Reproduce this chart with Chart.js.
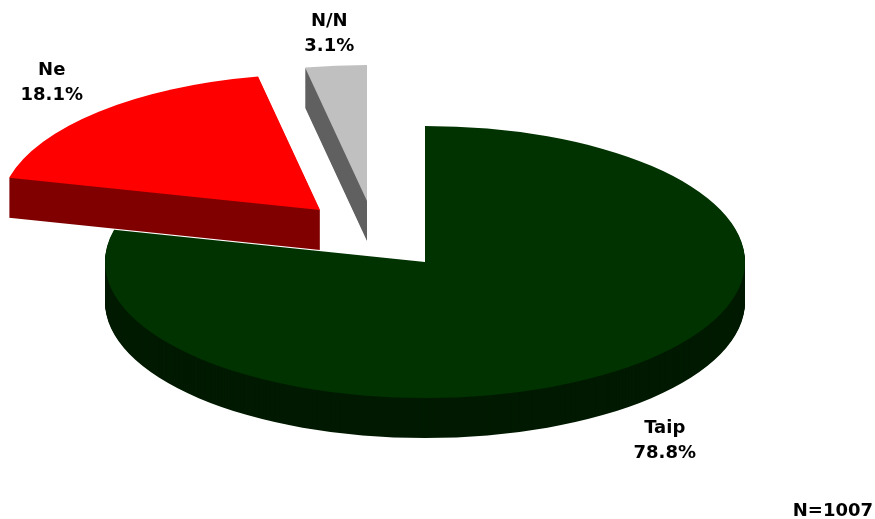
<!DOCTYPE html>
<html>
<head>
<meta charset="utf-8">
<script src="https://cdn.jsdelivr.net/npm/chart.js@4.4.1/dist/chart.umd.min.js"></script>
<style>
  html, body { margin: 0; padding: 0; background: #fff; }
  #wrap { width: 875px; height: 519px; position: relative; }
</style>
</head>
<body>
<div id="wrap"><canvas id="pieCanvas"></canvas></div>
<script>
// data
const categories = ['Taip', 'Ne', 'N/N'];
const shares = [78.8, 18.1, 3.1];
const sampleNote = 'N=1007';

// look
const topColors = ['#003300', '#ff0000', '#c0c0c0'];
const sideColors = ['#001a00', '#800000', '#606060'];
const explode = [[0, 0], [-105, -52], [-58, -61]]; // screen px shift of each slice
const labelNudge = [[0, 0], [0, 0], [0, 8]];
const drawOrder = [0, 2, 1];
const RX = 320, RY = 136, DEPTH = 40;
const GAP_X = 68, GAP_Y = 40; // label distance outside the rim
const FONT = 'bold 18px "DejaVu Sans", Verdana, sans-serif';

function slicePath(ctx, arc, dx, dy) {
  ctx.save();
  ctx.translate(arc.x + dx, arc.y + dy);
  ctx.scale(RX / arc.outerRadius, RY / arc.outerRadius);
  ctx.beginPath();
  ctx.moveTo(0, 0);
  ctx.arc(0, 0, arc.outerRadius, arc.startAngle, arc.endAngle);
  ctx.closePath();
  ctx.restore();
}

const pie3d = {
  id: 'pie3d',
  beforeDatasetsDraw(chart) {
    const ctx = chart.ctx;
    const arcs = chart.getDatasetMeta(0).data;
    drawOrder.forEach(function (i) {
      const arc = arcs[i];
      const [ex, ey] = explode[i];
      ctx.fillStyle = sideColors[i];
      for (let d = DEPTH; d >= 1; d--) {
        slicePath(ctx, arc, ex, ey + d);
        ctx.fill();
      }
      ctx.fillStyle = topColors[i];
      slicePath(ctx, arc, ex, ey);
      ctx.fill();
    });
    return false;
  },
  afterDraw(chart) {
    const ctx = chart.ctx;
    const arcs = chart.getDatasetMeta(0).data;
    ctx.save();
    ctx.font = FONT;
    ctx.fillStyle = '#000';
    ctx.textAlign = 'center';
    ctx.textBaseline = 'middle';
    arcs.forEach(function (arc, i) {
      const mid = (arc.startAngle + arc.endAngle) / 2;
      const c = Math.cos(mid), s = Math.sin(mid);
      const x = arc.x + explode[i][0] + (RX + GAP_X) * c + labelNudge[i][0];
      const y = arc.y + explode[i][1] + (RY + GAP_Y) * s + (s > 0 ? DEPTH : 0) + labelNudge[i][1];
      ctx.fillText(categories[i], x, y - 12.5);
      ctx.fillText(shares[i].toFixed(1) + '%', x, y + 12.5);
    });
    ctx.textAlign = 'right';
    ctx.textBaseline = 'alphabetic';
    ctx.fillText(sampleNote, chart.width - 2, chart.height - 3);
    ctx.restore();
  }
};

new Chart(document.getElementById('pieCanvas').getContext('2d'), {
  type: 'pie',
  data: {
    labels: categories,
    datasets: [{ data: shares, backgroundColor: topColors, borderWidth: 0 }]
  },
  options: {
    responsive: true,
    maintainAspectRatio: false,
    animation: false,
    layout: { padding: { left: 0, right: 25, top: 5, bottom: 0 } },
    plugins: { legend: { display: false }, tooltip: { enabled: false } }
  },
  plugins: [pie3d]
});
</script>
</body>
</html>
